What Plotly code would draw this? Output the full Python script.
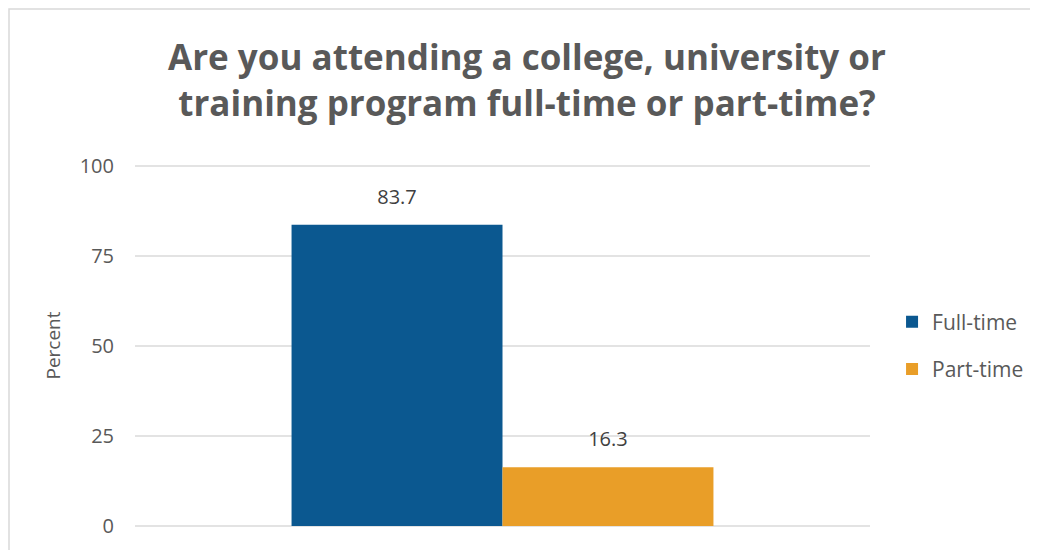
import plotly.graph_objects as go

categories = ["Are you attending"]
series_names = ["Full-time", "Part-time"]
full_time = [83.7]
part_time = [16.3]
tick_vals = [0, 25, 50, 75, 100]
tick_text = ["0", "25", "50", "75", "100"]

colors = {"Full-time": "#0b5890", "Part-time": "#e99e28"}
values = {"Full-time": full_time, "Part-time": part_time}

fig = go.Figure()
for i, name in enumerate(series_names):
    fig.add_trace(go.Bar(
        x=categories, y=values[name], name=name,
        marker=dict(color=colors[name], line=dict(width=0)),
        offsetgroup=str(i), legendgroup=name,
    ))
for i, name in enumerate(series_names):
    fig.add_trace(go.Scatter(
        x=categories, y=values[name], mode="markers+text",
        marker=dict(size=24, opacity=0, color=colors[name]),
        text=[f"{v:.1f}" for v in values[name]], textposition="top center",
        textfont=dict(family="Open Sans, sans-serif", size=20, color="#404040"),
        offsetgroup=str(i), showlegend=False, hoverinfo="skip", cliponaxis=False,
    ))

L, R, T, B = 127, 176, 157, 32
PW = 1038 - L - R
PH = 550 - T - B

fig.update_layout(
    width=1038, height=550,
    paper_bgcolor="white", plot_bgcolor="white",
    margin=dict(l=L, r=R, t=T, b=B),
    barmode="group", bargap=0.426, bargroupgap=0,
    scattermode="group", scattergap=0.426,
    title=dict(
        text="Are you attending a college, university or<br>training program full-time or part-time?",
        x=0.5, xanchor="center", y=0.887, yanchor="middle",
        font=dict(family="Open Sans, sans-serif", size=35, color="#595959", weight="bold"),
    ),
    showlegend=True,
    legend=dict(
        x=1.03, y=0.5, xanchor="left", yanchor="middle",
        font=dict(family="Open Sans, sans-serif", size=21, color="#595959"),
        tracegroupgap=17, traceorder="grouped",
        itemwidth=30,
        bgcolor="rgba(0,0,0,0)",
    ),
    xaxis=dict(showticklabels=False, showgrid=False, zeroline=False, showline=False, ticks=""),
    yaxis=dict(
        range=[0, 100.3], tickvals=tick_vals, ticktext=tick_text,
        showgrid=True, gridcolor="#e3e3e3", gridwidth=1.5,
        zeroline=True, zerolinecolor="#e3e3e3", zerolinewidth=1.5, showline=False, ticks="",
        ticklabelstandoff=20,
        tickfont=dict(family="Open Sans, sans-serif", size=20, color="#595959"),
        title=dict(text="Percent", standoff=14,
                   font=dict(family="Open Sans, sans-serif", size=19, color="#595959")),
    ),
    shapes=[
        dict(type="rect", xref="paper", yref="paper",
             x0=-(L - 1) / PW, x1=(1038 - L - 1) / PW,
             y0=-(B - 1) / PH, y1=1 + (T - 1) / PH,
             line=dict(color="#d9d9d9", width=1.5), fillcolor="rgba(0,0,0,0)", layer="below"),
    ],
)

fig.write_html("out.html")
